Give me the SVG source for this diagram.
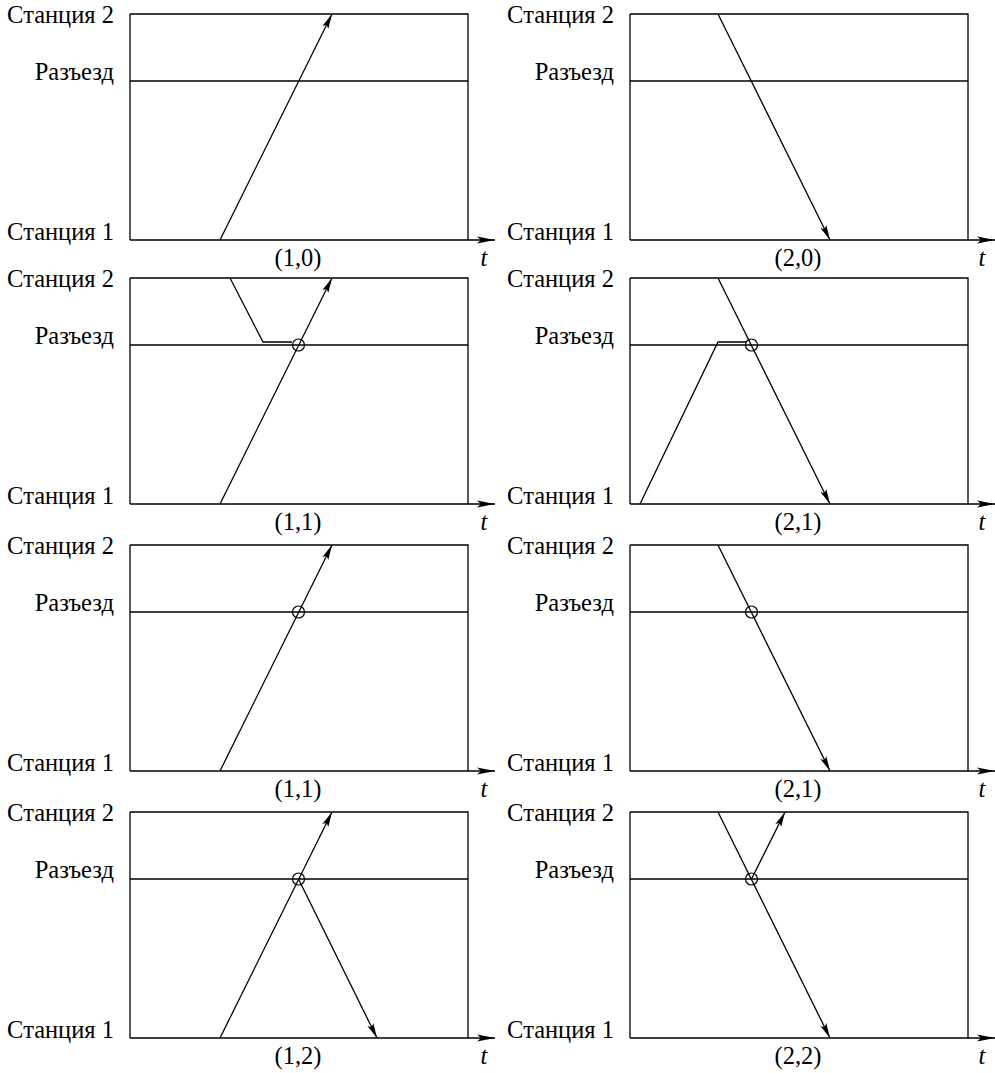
<svg xmlns="http://www.w3.org/2000/svg" width="995" height="1073" viewBox="0 0 995 1073">
<defs>
<marker id="ar" markerUnits="userSpaceOnUse" markerWidth="20" markerHeight="10" viewBox="-16 -5 17 10" refX="0" refY="0" orient="auto">
<path d="M0,0 L-15,-3.3 L-12,0 L-15,3.3 z" fill="#000"/>
</marker>
<marker id="ax" markerUnits="userSpaceOnUse" markerWidth="22" markerHeight="10" viewBox="-18 -5 19 10" refX="0" refY="0" orient="auto">
<path d="M0,0 L-18,-3.5 L-14,0 L-18,3.5 z" fill="#000"/>
</marker>
</defs>

<g id="p10">
<path fill="none" stroke="#000" stroke-width="1.3" d="M130,14 H468 V240 M130,14 V240 M130,81 H468"/>
<path fill="none" stroke="#000" stroke-width="1.3" d="M130,240 H495" marker-end="url(#ax)"/>
<text x="114" y="23" style="font-family:'Liberation Serif',serif;font-size:24.5px" text-anchor="end">Станция 2</text>
<text x="114" y="80" style="font-family:'Liberation Serif',serif;font-size:24.5px" text-anchor="end">Разъезд</text>
<text x="114" y="240" style="font-family:'Liberation Serif',serif;font-size:24.5px" text-anchor="end">Станция 1</text>
<text x="484" y="266" style="font-family:'Liberation Serif',serif;font-size:24.5px;font-style:italic" text-anchor="middle">t</text>
<text x="298" y="266" style="font-family:'Liberation Serif',serif;font-size:24.5px" text-anchor="middle">(1,0)</text>
</g>

<g id="p20">
<path fill="none" stroke="#000" stroke-width="1.3" d="M630,14 H968 V240 M630,14 V240 M630,81 H968"/>
<path fill="none" stroke="#000" stroke-width="1.3" d="M630,240 H995" marker-end="url(#ax)"/>
<text x="614" y="23" style="font-family:'Liberation Serif',serif;font-size:24.5px" text-anchor="end">Станция 2</text>
<text x="614" y="80" style="font-family:'Liberation Serif',serif;font-size:24.5px" text-anchor="end">Разъезд</text>
<text x="614" y="240" style="font-family:'Liberation Serif',serif;font-size:24.5px" text-anchor="end">Станция 1</text>
<text x="982" y="266" style="font-family:'Liberation Serif',serif;font-size:24.5px;font-style:italic" text-anchor="middle">t</text>
<text x="798" y="266" style="font-family:'Liberation Serif',serif;font-size:24.5px" text-anchor="middle">(2,0)</text>
</g>

<g id="p11a">
<path fill="none" stroke="#000" stroke-width="1.3" d="M130,278 H468 V504 M130,278 V504 M130,345 H468"/>
<path fill="none" stroke="#000" stroke-width="1.3" d="M130,504 H495" marker-end="url(#ax)"/>
<text x="114" y="287" style="font-family:'Liberation Serif',serif;font-size:24.5px" text-anchor="end">Станция 2</text>
<text x="114" y="344" style="font-family:'Liberation Serif',serif;font-size:24.5px" text-anchor="end">Разъезд</text>
<text x="114" y="504" style="font-family:'Liberation Serif',serif;font-size:24.5px" text-anchor="end">Станция 1</text>
<text x="484" y="530" style="font-family:'Liberation Serif',serif;font-size:24.5px;font-style:italic" text-anchor="middle">t</text>
<text x="298" y="530" style="font-family:'Liberation Serif',serif;font-size:24.5px" text-anchor="middle">(1,1)</text>
<circle fill="none" stroke="#000" stroke-width="1.2" cx="298.5" cy="345" r="6"/>
</g>

<g id="p21a">
<path fill="none" stroke="#000" stroke-width="1.3" d="M630,278 H968 V504 M630,278 V504 M630,345 H968"/>
<path fill="none" stroke="#000" stroke-width="1.3" d="M630,504 H995" marker-end="url(#ax)"/>
<text x="614" y="287" style="font-family:'Liberation Serif',serif;font-size:24.5px" text-anchor="end">Станция 2</text>
<text x="614" y="344" style="font-family:'Liberation Serif',serif;font-size:24.5px" text-anchor="end">Разъезд</text>
<text x="614" y="504" style="font-family:'Liberation Serif',serif;font-size:24.5px" text-anchor="end">Станция 1</text>
<text x="982" y="530" style="font-family:'Liberation Serif',serif;font-size:24.5px;font-style:italic" text-anchor="middle">t</text>
<text x="798" y="530" style="font-family:'Liberation Serif',serif;font-size:24.5px" text-anchor="middle">(2,1)</text>
<circle fill="none" stroke="#000" stroke-width="1.2" cx="751.5" cy="345" r="6"/>
</g>

<g id="p11b">
<path fill="none" stroke="#000" stroke-width="1.3" d="M130,545 H468 V771 M130,545 V771 M130,612 H468"/>
<path fill="none" stroke="#000" stroke-width="1.3" d="M130,771 H495" marker-end="url(#ax)"/>
<text x="114" y="554" style="font-family:'Liberation Serif',serif;font-size:24.5px" text-anchor="end">Станция 2</text>
<text x="114" y="611" style="font-family:'Liberation Serif',serif;font-size:24.5px" text-anchor="end">Разъезд</text>
<text x="114" y="771" style="font-family:'Liberation Serif',serif;font-size:24.5px" text-anchor="end">Станция 1</text>
<text x="484" y="797" style="font-family:'Liberation Serif',serif;font-size:24.5px;font-style:italic" text-anchor="middle">t</text>
<text x="298" y="797" style="font-family:'Liberation Serif',serif;font-size:24.5px" text-anchor="middle">(1,1)</text>
<circle fill="none" stroke="#000" stroke-width="1.2" cx="298.5" cy="612" r="6"/>
</g>

<g id="p21b">
<path fill="none" stroke="#000" stroke-width="1.3" d="M630,545 H968 V771 M630,545 V771 M630,612 H968"/>
<path fill="none" stroke="#000" stroke-width="1.3" d="M630,771 H995" marker-end="url(#ax)"/>
<text x="614" y="554" style="font-family:'Liberation Serif',serif;font-size:24.5px" text-anchor="end">Станция 2</text>
<text x="614" y="611" style="font-family:'Liberation Serif',serif;font-size:24.5px" text-anchor="end">Разъезд</text>
<text x="614" y="771" style="font-family:'Liberation Serif',serif;font-size:24.5px" text-anchor="end">Станция 1</text>
<text x="982" y="797" style="font-family:'Liberation Serif',serif;font-size:24.5px;font-style:italic" text-anchor="middle">t</text>
<text x="798" y="797" style="font-family:'Liberation Serif',serif;font-size:24.5px" text-anchor="middle">(2,1)</text>
<circle fill="none" stroke="#000" stroke-width="1.2" cx="751.5" cy="612" r="6"/>
</g>

<g id="p12">
<path fill="none" stroke="#000" stroke-width="1.3" d="M130,812 H468 V1038 M130,812 V1038 M130,879 H468"/>
<path fill="none" stroke="#000" stroke-width="1.3" d="M130,1038 H495" marker-end="url(#ax)"/>
<text x="114" y="821" style="font-family:'Liberation Serif',serif;font-size:24.5px" text-anchor="end">Станция 2</text>
<text x="114" y="878" style="font-family:'Liberation Serif',serif;font-size:24.5px" text-anchor="end">Разъезд</text>
<text x="114" y="1038" style="font-family:'Liberation Serif',serif;font-size:24.5px" text-anchor="end">Станция 1</text>
<text x="484" y="1064" style="font-family:'Liberation Serif',serif;font-size:24.5px;font-style:italic" text-anchor="middle">t</text>
<text x="298" y="1064" style="font-family:'Liberation Serif',serif;font-size:24.5px" text-anchor="middle">(1,2)</text>
<circle fill="none" stroke="#000" stroke-width="1.2" cx="298.5" cy="879" r="6"/>
</g>

<g id="p22">
<path fill="none" stroke="#000" stroke-width="1.3" d="M630,812 H968 V1038 M630,812 V1038 M630,879 H968"/>
<path fill="none" stroke="#000" stroke-width="1.3" d="M630,1038 H995" marker-end="url(#ax)"/>
<text x="614" y="821" style="font-family:'Liberation Serif',serif;font-size:24.5px" text-anchor="end">Станция 2</text>
<text x="614" y="878" style="font-family:'Liberation Serif',serif;font-size:24.5px" text-anchor="end">Разъезд</text>
<text x="614" y="1038" style="font-family:'Liberation Serif',serif;font-size:24.5px" text-anchor="end">Станция 1</text>
<text x="982" y="1064" style="font-family:'Liberation Serif',serif;font-size:24.5px;font-style:italic" text-anchor="middle">t</text>
<text x="798" y="1064" style="font-family:'Liberation Serif',serif;font-size:24.5px" text-anchor="middle">(2,2)</text>
<circle fill="none" stroke="#000" stroke-width="1.2" cx="751.5" cy="879" r="6"/>
</g>

<g id="connectors" fill="none" stroke="#000" stroke-width="1.3">
<path d="M220,240 L332,14" marker-end="url(#ar)"/>
<path d="M718,14 L830,240" marker-end="url(#ar)"/>
<path d="M220,504 L332,278" marker-end="url(#ar)"/>
<path d="M230,278 L263,342 H292"/>
<path d="M718,278 L830,504" marker-end="url(#ar)"/>
<path d="M640,504 L718,342 H746"/>
<path d="M220,771 L332,545" marker-end="url(#ar)"/>
<path d="M718,545 L830,771" marker-end="url(#ar)"/>
<path d="M220,1038 L332,812" marker-end="url(#ar)"/>
<path d="M298.5,879 L377,1038" marker-end="url(#ar)"/>
<path d="M718,812 L830,1038" marker-end="url(#ar)"/>
<path d="M751.5,879 L785,812" marker-end="url(#ar)"/>
</g>
</svg>
